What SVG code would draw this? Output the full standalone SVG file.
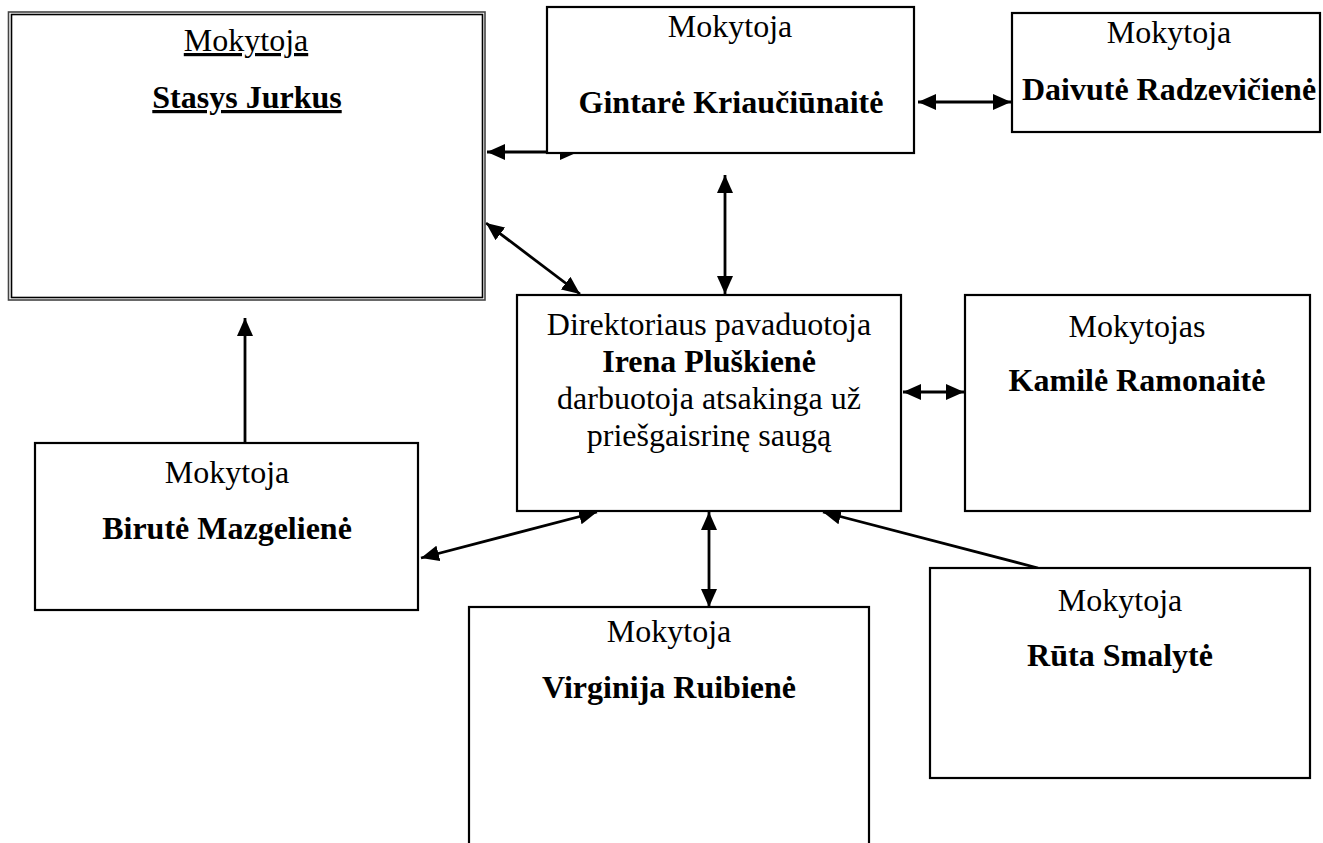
<svg xmlns="http://www.w3.org/2000/svg" width="1323" height="843" viewBox="0 0 1323 843">
<style>
.box{fill:#fff;stroke:#000;stroke-width:2.2}
.t{font-family:"Liberation Serif","Times New Roman",serif;font-size:32px;fill:#000;text-anchor:middle}
.b{font-weight:bold}
.u{text-decoration:underline}
.c{stroke:#000;stroke-width:2.8;fill:none}
</style>
<defs>
<marker id="ah" viewBox="0 0 18 16" refX="18" refY="8" markerWidth="18" markerHeight="16" markerUnits="userSpaceOnUse" orient="auto-start-reverse">
<path d="M0,0 L18,8 L0,16 z" fill="#000"/>
</marker>
</defs>
<rect width="1323" height="843" fill="#fff"/>
<g id="connectors">
<line class="c" x1="487" y1="152" x2="578" y2="152" marker-start="url(#ah)" marker-end="url(#ah)"/>
<line class="c" x1="918" y1="102" x2="1011" y2="102" marker-start="url(#ah)" marker-end="url(#ah)"/>
<line class="c" x1="725" y1="175" x2="725" y2="294" marker-start="url(#ah)" marker-end="url(#ah)"/>
<line class="c" x1="486" y1="223" x2="580" y2="294" marker-start="url(#ah)" marker-end="url(#ah)"/>
<line class="c" x1="903" y1="392" x2="964" y2="392" marker-start="url(#ah)" marker-end="url(#ah)"/>
<line class="c" x1="245" y1="443" x2="245" y2="318" marker-end="url(#ah)"/>
<line class="c" x1="421" y1="558" x2="597" y2="512" marker-start="url(#ah)" marker-end="url(#ah)"/>
<line class="c" x1="709" y1="512" x2="709" y2="607" marker-start="url(#ah)" marker-end="url(#ah)"/>
<line class="c" x1="1038" y1="568" x2="823" y2="512" marker-end="url(#ah)"/>
</g>
<g id="stasys">
<rect x="8.5" y="12" width="476.5" height="288" fill="#fff" stroke="#444" stroke-width="1.6"/>
<rect x="11.5" y="14.5" width="471" height="283" fill="none" stroke="#000" stroke-width="1.6"/>
<text class="t u" x="246" y="51">Mokytoja</text>
<text class="t b u" x="247" y="108">Stasys Jurkus</text>
</g>
<g id="gintare">
<rect class="box" x="547" y="7" width="367" height="146"/>
<text class="t" x="730" y="37">Mokytoja</text>
<text class="t b" x="731" y="113">Gintarė Kriaučiūnaitė</text>
</g>
<g id="daivute">
<rect class="box" x="1012" y="13" width="308" height="119"/>
<text class="t" x="1169" y="43">Mokytoja</text>
<text class="t b" x="1169" y="100">Daivutė Radzevičienė</text>
</g>
<g id="irena">
<rect class="box" x="517" y="295" width="384" height="216"/>
<text class="t" x="709" y="335">Direktoriaus pavaduotoja</text>
<text class="t b" x="709" y="372">Irena Pluškienė</text>
<text class="t" x="709" y="409">darbuotoja atsakinga už</text>
<text class="t" x="709" y="446">priešgaisrinę saugą</text>
</g>
<g id="kamile">
<rect class="box" x="965" y="295" width="345" height="216"/>
<text class="t" x="1137" y="337">Mokytojas</text>
<text class="t b" x="1137" y="391">Kamilė Ramonaitė</text>
</g>
<g id="birute">
<rect class="box" x="35" y="443" width="383" height="167"/>
<text class="t" x="227" y="483">Mokytoja</text>
<text class="t b" x="227" y="539">Birutė Mazgelienė</text>
</g>
<g id="virginija">
<rect class="box" x="469" y="607" width="400" height="250"/>
<text class="t" x="669" y="642">Mokytoja</text>
<text class="t b" x="669" y="698">Virginija Ruibienė</text>
</g>
<g id="ruta">
<rect class="box" x="930" y="568" width="380" height="210"/>
<text class="t" x="1120" y="611">Mokytoja</text>
<text class="t b" x="1120" y="666">Rūta Smalytė</text>
</g>
</svg>
